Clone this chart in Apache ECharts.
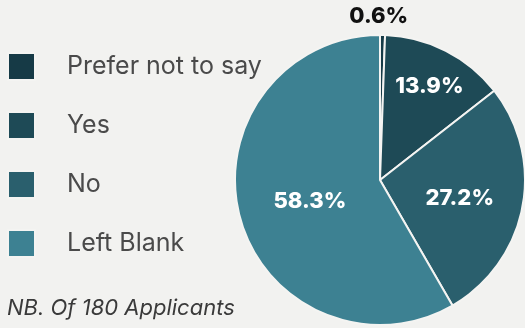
<!DOCTYPE html>
<html>
<head>
<meta charset="utf-8">
<script src="https://cdn.jsdelivr.net/npm/echarts@6/dist/echarts.min.js"></script>
<style>
  html, body { margin: 0; padding: 0; background: #f2f2f0; }
  #chart { width: 525px; height: 328px; }
</style>
</head>
<body>
<div id="chart"></div>
<script>
// Applicant responses (counts out of 180)
const categories = ['Prefer not to say', 'Yes', 'No', 'Left Blank'];
const counts = [1, 25, 49, 105];
const footnote = 'NB. Of 180 Applicants';

const colors = ['#163a46', '#1e4a56', '#2a5f6d', '#3d8192'];
// radial placement of each value label, as a fraction of the radius (outside for the first)
const labelRadius = [1.1, 0.75, 0.56, 0.5];

const total = counts.reduce((a, b) => a + b, 0);
const pct = v => (v / total * 100).toFixed(1) + '%';

const cx = 380, cy = 180, R = 145;

// middle angle of each slice, clockwise from 12 o'clock
const midAngles = [];
let acc = 0;
counts.forEach(v => {
  const a0 = acc / total * 2 * Math.PI;
  acc += v;
  const a1 = acc / total * 2 * Math.PI;
  midAngles.push((a0 + a1) / 2);
});

const chart = echarts.init(document.getElementById('chart'));
chart.setOption({
  backgroundColor: '#f2f2f0',
  animation: false,
  legend: {
    orient: 'vertical',
    left: 7,
    top: 52,
    padding: 0,
    itemWidth: 27,
    itemHeight: 27,
    itemGap: 30,
    icon: 'rect',
    data: categories,
    textStyle: {
      fontFamily: 'Inter',
      fontSize: 25,
      lineHeight: 27,
      color: '#4a4a4a',
      padding: [0, 0, 0, 27]
    }
  },
  graphic: [{
    type: 'text',
    left: 7,
    top: 297,
    style: {
      text: footnote,
      fontFamily: 'Inter',
      fontStyle: 'italic',
      fontSize: 22,
      fill: '#3a3a3a'
    }
  }],
  series: [{
    type: 'pie',
    center: [cx, cy],
    radius: R,
    startAngle: 90,
    clockwise: true,
    avoidLabelOverlap: false,
    itemStyle: { borderColor: '#f4f4f2', borderWidth: 2 },
    label: {
      show: true,
      position: 'inside',
      formatter: p => pct(p.value),
      fontFamily: 'Inter',
      fontWeight: 800,
      fontSize: 22,
      color: '#ffffff'
    },
    labelLine: { show: false },
    labelLayout: p => {
      const i = p.dataIndex;
      const a = midAngles[i];
      const r = R * labelRadius[i];
      return {
        x: cx + r * Math.sin(a) - (i === 0 ? 4 : 0),
        y: cy - r * Math.cos(a) + (i === 0 ? -4 : 3),
        align: 'center',
        verticalAlign: 'middle'
      };
    },
    data: categories.map((name, i) => ({
      name,
      value: counts[i],
      itemStyle: { color: colors[i] },
      label: i === 0 ? { color: '#111111' } : undefined
    }))
  }]
});
</script>
</body>
</html>
